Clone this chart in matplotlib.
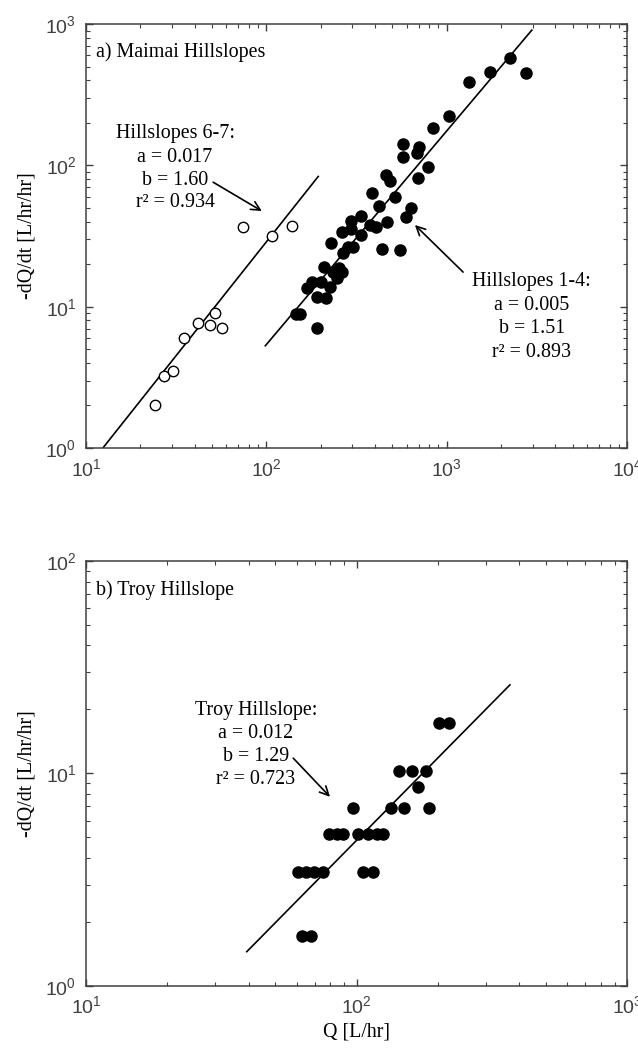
import numpy as np
import matplotlib
matplotlib.use("Agg")
import matplotlib.pyplot as plt
from matplotlib.ticker import LogLocator, NullFormatter

# ── Data ──────────────────────────────────────────────────────────────────────
# a) Maimai, hillslopes 6-7 (open circles)
q67 = [24.2, 27.1, 30.4, 35.0, 41.6, 48.9, 51.7, 56.9, 74.4, 107, 139]
dq67 = [2.02, 3.24, 3.52, 6.03, 7.7, 7.45, 9.07, 7.1, 36.9, 31.9, 37.5]

# a) Maimai, hillslopes 1-4 (filled circles)
q14 = [2249, 1741, 2756, 1331, 1031, 841, 573, 703, 573, 685, 788,
       461, 485, 694, 386, 517, 422, 635, 595, 335, 295, 376, 406, 467,
       295, 263, 335, 228, 284, 303, 438, 552, 266, 209, 253, 263, 234,
       179, 201, 247, 226, 168, 191, 214, 154, 146, 191]
dq14 = [575, 458, 451, 389, 224, 184, 142, 135, 115, 122, 97.5,
        85.5, 77.6, 81.5, 63.8, 59.7, 51.6, 50.0, 43.1, 43.8, 40.4, 37.8, 36.6, 39.8,
        35.5, 33.8, 32.2, 28.2, 26.5, 26.5, 25.6, 25.2, 24.0, 19.1, 18.8, 17.6, 17.6,
        15.0, 15.0, 16.0, 13.8, 13.6, 11.7, 11.5, 8.88, 8.88, 7.07]

# b) Troy hillslope (filled circles)
q_troy = [202, 220, 144, 160, 181, 169, 96.8, 134, 150, 186,
          79.3, 84.5, 89.4, 101.6, 110.6, 118.8, 125.7,
          61, 65, 69.6, 75, 105.4, 115, 62.7, 67.9]
dq_troy = [17.2, 17.2, 10.3, 10.3, 10.3, 8.6, 6.9, 6.9, 6.9, 6.9,
           5.16, 5.16, 5.16, 5.16, 5.16, 5.16, 5.16,
           3.44, 3.44, 3.44, 3.44, 3.44, 3.44, 1.72, 1.72]

# fitted power-law lines (end points as drawn)
fit67_q, fit67_dq = [12.4, 194], [1.0, 83.5]
fit14_q, fit14_dq = [98.7, 2966], [5.29, 906]
fittroy_q, fittroy_dq = [39.3, 369], [1.45, 26.1]

# ── Style ─────────────────────────────────────────────────────────────────────
plt.rcParams["font.family"] = ["Liberation Serif", "DejaVu Serif"]
plt.rcParams["axes.linewidth"] = 1.1
SPINE = "0.25"
FS = 14.4


def style_axes(ax, xlim, ylim):
    ax.set_xscale("log")
    ax.set_yscale("log")
    ax.set_xlim(*xlim)
    ax.set_ylim(*ylim)
    for s in ax.spines.values():
        s.set_color(SPINE)
    for axis in (ax.xaxis, ax.yaxis):
        axis.set_major_locator(LogLocator(base=10, numticks=10))
        axis.set_minor_locator(LogLocator(base=10, subs=np.arange(2, 10), numticks=10))
        axis.set_minor_formatter(NullFormatter())
    ax.tick_params(which="both", direction="in", top=True, right=True,
                   color=SPINE, labelfontfamily="Liberation Sans",
                   labelsize=14, labelcolor="0.25")
    ax.tick_params(which="major", length=5, width=1.0, pad=7)
    ax.tick_params(which="minor", length=3, width=0.8)


fig = plt.figure(figsize=(6.38, 10.5), dpi=100)
ax1 = fig.add_axes([0.1348, 0.5733, 0.848, 0.4038])
ax2 = fig.add_axes([0.1348, 0.0610, 0.848, 0.4048])

# ── Panel a ───────────────────────────────────────────────────────────────────
style_axes(ax1, (10, 1e4), (1, 1e3))
ax1.plot(fit67_q, fit67_dq, color="k", lw=1.2)
ax1.plot(fit14_q, fit14_dq, color="k", lw=1.2)
ax1.plot(q67, dq67, "o", ms=7.5, mfc="white", mec="k", mew=1.0, ls="none")
ax1.plot(q14, dq14, "o", ms=8, mfc="k", mec="k", ls="none")

ax1.text(0.018, 0.934, "a) Maimai Hillslopes", transform=ax1.transAxes,
         fontsize=FS, ha="left", va="center")
for txt, yy in zip(["Hillslopes 6-7:", "a = 0.017", "b = 1.60", "r² = 0.934"],
                   [0.743, 0.686, 0.632, 0.578]):
    ax1.text(0.1645, yy, txt, transform=ax1.transAxes, fontsize=FS,
             ha="center", va="center")
for txt, yy in zip(["Hillslopes 1-4:", "a = 0.005", "b = 1.51", "r² = 0.893"],
                   [0.392, 0.335, 0.283, 0.226]):
    ax1.text(0.824, yy, txt, transform=ax1.transAxes, fontsize=FS,
             ha="center", va="center")
arrow = dict(arrowstyle="->", lw=1.2, color="k", mutation_scale=16,
             shrinkA=0, shrinkB=0)
ax1.annotate("", xy=(0.325, 0.559), xytext=(0.235, 0.627),
             xycoords="axes fraction", textcoords="axes fraction", arrowprops=arrow)
ax1.annotate("", xy=(0.608, 0.526), xytext=(0.697, 0.415),
             xycoords="axes fraction", textcoords="axes fraction", arrowprops=arrow)
ax1.set_ylabel("-dQ/dt [L/hr/hr]", fontsize=FS)
ax1.yaxis.set_label_coords(-0.092, 0.5)

# ── Panel b ───────────────────────────────────────────────────────────────────
style_axes(ax2, (10, 1e3), (1, 1e2))
ax2.plot(fittroy_q, fittroy_dq, color="k", lw=1.2)
ax2.plot(q_troy, dq_troy, "o", ms=8, mfc="k", mec="k", ls="none")

ax2.text(0.018, 0.932, "b) Troy Hillslope", transform=ax2.transAxes,
         fontsize=FS, ha="left", va="center")
for txt, yy in zip(["Troy Hillslope:", "a = 0.012", "b = 1.29", "r² = 0.723"],
                   [0.649, 0.595, 0.541, 0.485]):
    ax2.text(0.314, yy, txt, transform=ax2.transAxes, fontsize=FS,
             ha="center", va="center")
ax2.annotate("", xy=(0.451, 0.445), xytext=(0.383, 0.536),
             xycoords="axes fraction", textcoords="axes fraction", arrowprops=arrow)
ax2.set_ylabel("-dQ/dt [L/hr/hr]", fontsize=FS)
ax2.yaxis.set_label_coords(-0.092, 0.5)
ax2.set_xlabel("Q [L/hr]", fontsize=FS)
ax2.xaxis.set_label_coords(0.5, -0.085)

fig.savefig("out.png", dpi=100)
